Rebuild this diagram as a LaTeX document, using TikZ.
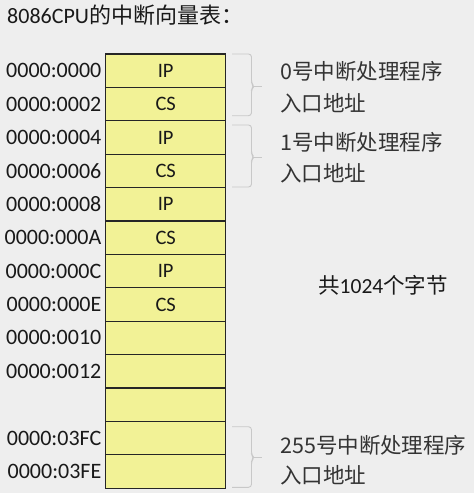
\documentclass[tikz,border=0pt]{standalone}
\usepackage{fontspec}
\setmainfont{Carlito}
\newfontfamily\cjk{Noto Sans CJK SC}
\begin{document}
\begin{tikzpicture}[x=1pt,y=-1pt,
  cell/.style={draw=black!85,line width=1.1pt,fill=cellyellow,minimum width=120pt,minimum height=33.4pt,inner sep=0pt,font=\fontsize{20.5}{22}\selectfont,text=black!90},
  addr/.style={anchor=east,inner sep=0pt,font=\fontsize{22}{24}\selectfont,text=black!90},
  note/.style={anchor=west,inner sep=0pt,font=\fontsize{21.5}{23}\selectfont\cjk,text=black!80},
  bracepath/.style={draw=bracegray,line width=0.9pt,rounded corners=3pt}]
\definecolor{bg}{RGB}{238,238,238}
\definecolor{cellyellow}{RGB}{242,242,150}
\definecolor{bracegray}{RGB}{200,200,200}
\fill[bg] (0,0) rectangle (474,493);
\useasboundingbox (0,0) rectangle (474,493);
% title
\node[anchor=west,inner sep=0pt,font=\fontsize{22}{24}\selectfont,text=black!90] (title) at (7,15) {8086CPU{\cjk 的中断向量表：}};
% cells
\foreach \i/\t in {0/IP,1/CS,2/IP,3/CS,4/IP,5/CS,6/IP,7/CS,8/,9/,10/,11/,12/}{
  \node[cell] (r\i) at (165.7,{54+33.4*(\i+0.5)}) {\t};
}
% addresses
\foreach \i/\a in {0/0000:0000,1/0000:0002,2/0000:0004,3/0000:0006,4/0000:0008,5/0000:000A,6/0000:000C,7/0000:000E,8/0000:0010,9/0000:0012,11/0000:03FC,12/0000:03FE}{
  \node[addr] (a\i) at (101.5,{54+33.4*(\i+0.5)}) {\a};
}
% braces
\foreach \t/\m/\b in {54/86.3/115.7, 125/157/187, 426.7/457.7/487.3}{
  \draw[bracepath] (232,\t) -- (251.5,\t) -- (251.5,{\m-3}) -- (254,\m) -- (251.5,{\m+3}) -- (251.5,\b) -- (232,\b);
  \draw[draw=bracegray,line width=0.9pt] (253,\m) -- (262,\m);
}
% notes
\node[note] (n0a) at (280,71) {0号中断处理程序};
\node[note] (n0b) at (280,103) {入口地址};
\node[note] (n1a) at (280,142) {1号中断处理程序};
\node[note] (n1b) at (280,173) {入口地址};
\node[note] (n2a) at (280,445) {255号中断处理程序};
\node[note] (n2b) at (280,475) {入口地址};
\node[anchor=west,inner sep=0pt,font=\fontsize{21.5}{23}\selectfont,text=black!90] (total) at (318,285) {{\cjk 共}1024{\cjk 个字节}};
\end{tikzpicture}
\end{document}
